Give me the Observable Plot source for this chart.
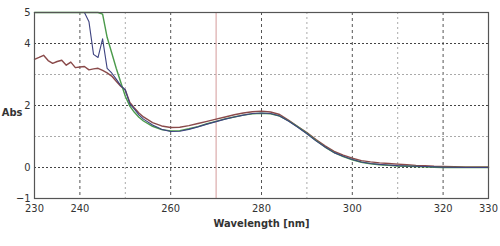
<!DOCTYPE html>
<html><head><meta charset="utf-8">
<script src="https://cdn.jsdelivr.net/npm/d3@7"></script>
<script src="https://cdn.jsdelivr.net/npm/@observablehq/plot@0.6"></script>
<style>
body{margin:0;background:#fff;}
#c svg{font-family:"DejaVu Sans Condensed","Liberation Sans Narrow","Arial Narrow",sans-serif;}
</style></head><body><div id="c"></div>
<script>
const wl = [230,231,232,233,234,235,236,237,238,239,240,241,242,243,244,245,246,247,248,249,250,251,252,253,254,256,258,260,262,264,266,268,270,272,274,276,278,280,282,284,286,288,290,292,294,296,298,300,302,304,306,308,310,312,314,316,318,320,325,330];
const brown = [3.49,3.55,3.62,3.45,3.36,3.42,3.46,3.30,3.40,3.22,3.24,3.26,3.15,3.18,3.20,3.13,3.05,2.95,2.78,2.62,2.50,2.10,1.92,1.76,1.63,1.45,1.34,1.29,1.30,1.35,1.42,1.49,1.56,1.63,1.70,1.76,1.80,1.82,1.79,1.71,1.52,1.32,1.13,0.90,0.70,0.52,0.40,0.30,0.22,0.18,0.15,0.13,0.11,0.09,0.07,0.06,0.04,0.03,0.02,0.02];
const blue = [5,5,5,5,5,5,5,5,5,5,5,5,4.70,3.65,3.55,4.15,3.20,3.05,2.85,2.64,2.50,2.05,1.88,1.70,1.56,1.37,1.23,1.16,1.17,1.23,1.31,1.40,1.48,1.56,1.63,1.69,1.74,1.76,1.74,1.66,1.49,1.30,1.09,0.86,0.66,0.48,0.36,0.26,0.18,0.13,0.10,0.08,0.06,0.05,0.04,0.03,0.02,0.01,0.00,0.00];
const green = [5,5,5,5,5,5,5,5,5,5,5,5,5,5,5,4.95,4.20,3.70,3.20,2.75,2.30,1.98,1.78,1.62,1.50,1.33,1.22,1.18,1.19,1.25,1.32,1.41,1.49,1.57,1.63,1.69,1.73,1.75,1.73,1.66,1.50,1.31,1.10,0.87,0.66,0.48,0.35,0.25,0.17,0.12,0.09,0.07,0.05,0.04,0.03,0.02,0.01,0.00,0.00,0.00];
const xTicks = [230,240,260,280,300,320,330];
const yTicks = [5,4,2,0,-1];
const xGridMajor = [240,260,280,300,320];
const xGridMinor = [250,290,310];
const yGridMajor = [4,2,0];
const yGridMinor = [3,1];
const marker = [270];

const rows = (ys, name) => wl.map((w,i)=>({w, a: ys[i], s: name}));
const plot = Plot.plot({
  width: 500, height: 246,
  marginLeft: 34, marginRight: 12, marginTop: 12, marginBottom: 48,
  x: {domain: [230,330]},
  y: {domain: [-1,5]},
  style: {fontSize: "11px", color: "#333"},
  marks: [
    Plot.ruleX(xGridMinor, {stroke: "#aaa", strokeDasharray: "2,3", strokeWidth: 1}),
    Plot.ruleX(xGridMajor, {stroke: "#555", strokeDasharray: "3,3", strokeWidth: 1}),
    Plot.ruleY(yGridMinor, {stroke: "#aaa", strokeDasharray: "2,2", strokeWidth: 1}),
    Plot.ruleY(yGridMajor, {stroke: "#444", strokeDasharray: "2,2", strokeWidth: 1}),
    Plot.ruleX(marker, {stroke: "#d49a9a", strokeWidth: 1}),
    Plot.line(rows(brown,"b"), {x: "w", y: "a", stroke: "#8a4a4a", strokeWidth: 1.4}),
    Plot.line(rows(green,"g"), {x: "w", y: "a", stroke: "#4a9a4a", strokeWidth: 1.4}),
    Plot.line(rows(blue,"u"), {x: "w", y: "a", stroke: "#3e4380", strokeWidth: 1.1}),
    Plot.frame({stroke: "#555", strokeWidth: 1.2}),
    Plot.axisX(xTicks, {tickSize: 0, tickPadding: 6, label: null, fontSize: 11}),
    Plot.axisY(yTicks, {tickSize: 0, tickPadding: 4, label: null, fontSize: 11}),
    Plot.text(["Wavelength [nm]"], {frameAnchor: "bottom", lineAnchor: "middle", dy: 25, fontWeight: "bold", fontSize: 11}),
    Plot.text(["Abs"], {frameAnchor: "left", textAnchor: "end", dx: -12, dy: 7, fontWeight: "bold", fontSize: 11})
  ]
});
document.getElementById("c").appendChild(plot);
</script></body></html>
